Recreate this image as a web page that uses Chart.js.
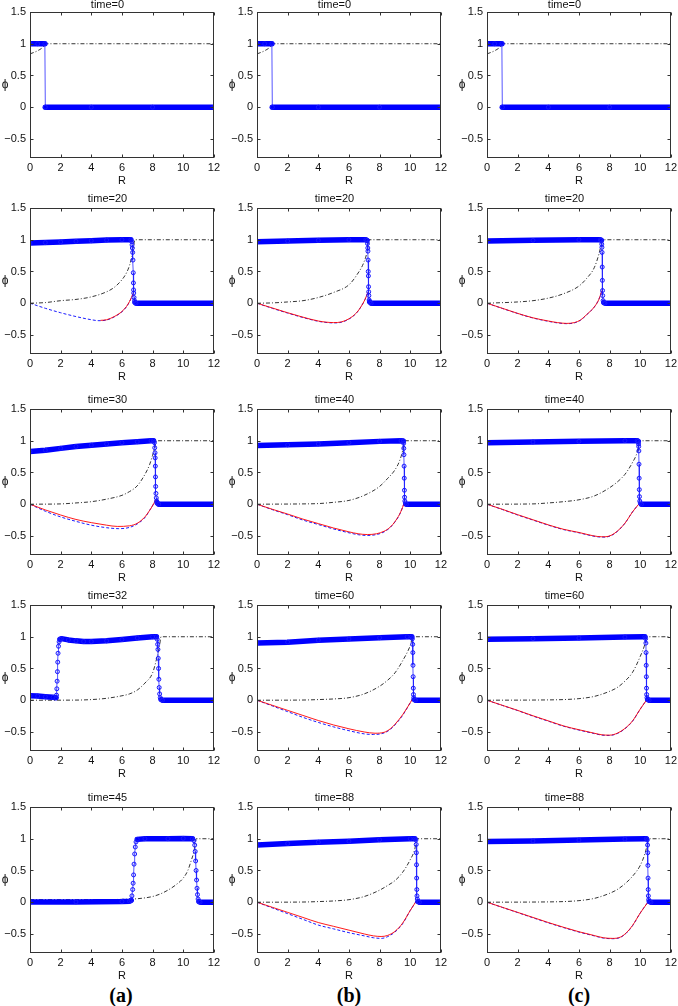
<!DOCTYPE html>
<html><head><meta charset="utf-8">
<script src="https://cdn.jsdelivr.net/npm/chart.js@4.4.1/dist/chart.umd.min.js"></script>
<style>
html,body{margin:0;padding:0;background:#fff;overflow:hidden;width:678px;height:1006px;}
canvas{position:absolute;}
.lab{position:absolute;top:984px;font:bold 20px "Liberation Serif","Times New Roman",serif;line-height:22px;transform:translateX(-50%);color:#000;}
</style></head><body>
<div class="lab" style="left:121px">(a)</div>
<div class="lab" style="left:349px">(b)</div>
<div class="lab" style="left:579px">(c)</div>
<script>
// ---------- axes ----------
const xTicks = [0, 2, 4, 6, 8, 10, 12];
const yTicks = [-0.5, 0, 0.5, 1, 1.5];
const yTickLabels = ['\u22120.5', '0', '0.5', '1', '1.5'];
const xLabel = 'R';
const yLabel = '\u03d5';
const panelLabels = ['(a)', '(b)', '(c)'];
const titles = [
  ['time=0', 'time=20', 'time=30', 'time=32', 'time=45'],
  ['time=0', 'time=20', 'time=40', 'time=60', 'time=88'],
  ['time=0', 'time=20', 'time=40', 'time=60', 'time=88']
];

// ---------- column (a) ----------
const phi_a1 = [[0,1],[0.5,1],[0.97,1],[1.0,0],[4,0],[8,0],[12,0]];
const psi_a1 = [[0,0.84],[0.5,0.89],[0.9,0.96],[1.0,1],[12,1]];
const red_a1 = [];
const dash_a1 = [];

const phi_a2 = [[0,0.95],[1,0.955],[2,0.965],[3,0.975],[4,0.985],[5,0.995],[6,1.0],[6.58,1.0],[6.64,0.97],[6.66,0.92],[6.68,0.87],[6.7,0.8],[6.72,0.68],[6.74,0.48],[6.75,0.32],[6.76,0.21],[6.77,0.16],[6.79,0.09],[6.82,0.04],[6.86,0.01],[6.92,0],[12,0]];
const psi_a2 = [[0,0],[1,0.01],[2,0.04],[3,0.06],[4,0.1],[5,0.18],[5.5,0.25],[6,0.37],[6.3,0.48],[6.5,0.6],[6.7,0.79],[6.85,1],[12,1]];
const red_a2 = [[4.6,-0.27],[5,-0.26],[5.5,-0.21],[6,-0.13],[6.3,-0.05],[6.5,0.03],[6.75,0.16]];
const dash_a2 = [[0,0],[1,-0.08],[2,-0.15],[3,-0.21],[4,-0.26],[4.5,-0.275],[5,-0.265],[5.5,-0.215],[6,-0.135],[6.3,-0.055],[6.5,0.025],[6.75,0.16]];

const phi_a3 = [[0,0.83],[1,0.85],[2,0.88],[3,0.91],[4,0.93],[5,0.95],[6,0.97],[7,0.985],[7.9,1.0],[8.06,1.0],[8.12,0.97],[8.14,0.89],[8.16,0.81],[8.17,0.73],[8.18,0.6],[8.19,0.43],[8.2,0.28],[8.22,0.17],[8.24,0.1],[8.27,0.05],[8.31,0.02],[8.4,0],[12,0]];
const psi_a3 = [[0,0],[2,0.005],[3,0.02],[4,0.04],[5,0.08],[6,0.14],[6.5,0.2],[7,0.29],[7.5,0.47],[7.8,0.62],[8,0.77],[8.15,0.9],[8.25,1],[12,1]];
const red_a3 = [[0,0],[1,-0.09],[2,-0.17],[3,-0.24],[4,-0.29],[5,-0.33],[5.7,-0.35],[6.5,-0.34],[7,-0.3],[7.5,-0.2],[7.8,-0.1],[8.1,0.02],[8.2,0.07]];
const dash_a3 = [[0,0],[1,-0.11],[2,-0.2],[3,-0.27],[4,-0.33],[5,-0.37],[5.8,-0.385],[6.5,-0.365],[7,-0.31],[7.5,-0.21],[7.8,-0.1],[8.1,0.02],[8.2,0.07]];

const phi_a4 = [[0,0.07],[0.5,0.065],[1,0.055],[1.5,0.045],[1.7,0.04],[1.73,0.08],[1.75,0.18],[1.77,0.3],[1.79,0.45],[1.81,0.6],[1.83,0.74],[1.86,0.85],[1.9,0.92],[1.96,0.96],[2.05,0.97],[2.5,0.95],[3,0.935],[3.5,0.925],[4,0.925],[5,0.935],[6,0.955],[7,0.98],[8,1.0],[8.25,1.0],[8.3,0.96],[8.33,0.88],[8.35,0.8],[8.37,0.66],[8.39,0.5],[8.41,0.33],[8.43,0.2],[8.46,0.1],[8.5,0.04],[8.56,0.01],[8.65,0],[12,0]];
const psi_a4 = [[0,0],[3,0.002],[4,0.01],[5,0.03],[6,0.07],[6.5,0.1],[7,0.16],[7.5,0.27],[8,0.43],[8.3,0.69],[8.45,0.85],[8.55,1],[12,1]];
const red_a4 = [];
const dash_a4 = [];

const phi_a5 = [[0,0.005],[3,0.005],[6,0.01],[6.5,0.015],[6.6,0.03],[6.65,0.1],[6.7,0.2],[6.73,0.3],[6.76,0.43],[6.79,0.6],[6.83,0.76],[6.87,0.87],[6.92,0.95],[7.0,0.99],[7.5,1.0],[9,1.0],[10,1.005],[10.6,1.0],[10.7,0.97],[10.75,0.9],[10.78,0.8],[10.81,0.65],[10.84,0.5],[10.87,0.35],[10.9,0.22],[10.93,0.12],[10.97,0.05],[11.03,0.01],[11.1,0],[12,0]];
const psi_a5 = [[0,0.04],[2,0.04],[4,0.04],[6,0.045],[7,0.055],[8,0.09],[8.5,0.13],[9,0.19],[9.5,0.27],[10,0.38],[10.3,0.5],[10.5,0.64],[10.7,0.8],[10.85,1],[12,1]];
const red_a5 = [];
const dash_a5 = [];

// ---------- column (b) ----------
const phi_b1 = [[0,1],[0.5,1],[0.97,1],[1.0,0],[4,0],[8,0],[12,0]];
const psi_b1 = [[0,0.84],[0.5,0.89],[0.9,0.96],[1.0,1],[12,1]];
const red_b1 = [];
const dash_b1 = [];

const phi_b2 = [[0,0.97],[2,0.98],[4,0.99],[6,1.0],[7.1,1.0],[7.18,0.99],[7.21,0.94],[7.23,0.87],[7.24,0.82],[7.25,0.68],[7.26,0.5],[7.27,0.43],[7.28,0.26],[7.29,0.18],[7.3,0.12],[7.32,0.05],[7.36,0.02],[7.45,0],[12,0]];
const psi_b2 = [[0,0],[1,0.005],[2,0.02],[3,0.04],[4,0.09],[5,0.17],[6,0.29],[6.5,0.44],[7,0.66],[7.2,0.83],[7.3,1],[12,1]];
const red_b2 = [[0,0],[1,-0.075],[2,-0.15],[3,-0.22],[4,-0.28],[4.5,-0.298],[5,-0.305],[5.5,-0.295],[6,-0.245],[6.5,-0.15],[6.8,-0.05],[7.05,0.06],[7.25,0.18]];
const dash_b2 = [[0,0],[1,-0.08],[2,-0.155],[3,-0.225],[4,-0.285],[4.5,-0.303],[5,-0.31],[5.5,-0.3],[6,-0.25],[6.5,-0.152],[6.8,-0.05],[7.05,0.06],[7.25,0.18]];

const phi_b3 = [[0,0.925],[2,0.935],[4,0.95],[6,0.97],[8,0.99],[9.4,1.0],[9.54,0.995],[9.57,0.96],[9.58,0.88],[9.59,0.78],[9.6,0.6],[9.61,0.41],[9.62,0.22],[9.63,0.11],[9.65,0.05],[9.68,0.02],[9.75,0],[12,0]];
const psi_b3 = [[0,0],[3,0.005],[4,0.01],[5,0.03],[6,0.06],[7,0.14],[8,0.28],[8.5,0.4],[9,0.54],[9.3,0.68],[9.5,0.84],[9.62,1],[12,1]];
const red_b3 = [[0,0],[1,-0.08],[2,-0.155],[3,-0.235],[4,-0.305],[5,-0.375],[6,-0.435],[6.6,-0.465],[7.2,-0.478],[7.8,-0.465],[8.3,-0.425],[8.7,-0.36],[9,-0.275],[9.3,-0.16],[9.5,-0.05],[9.6,0.02]];
const dash_b3 = [[0,0],[1,-0.085],[2,-0.165],[3,-0.25],[4,-0.32],[5,-0.39],[6,-0.45],[6.6,-0.48],[7.2,-0.492],[7.8,-0.478],[8.3,-0.435],[8.7,-0.365],[9,-0.28],[9.3,-0.165],[9.5,-0.05],[9.6,0.02]];

const phi_b4 = [[0,0.9],[2,0.915],[4,0.945],[6,0.965],[8,0.985],[9.8,1.0],[10.1,1.0],[10.14,0.97],[10.16,0.88],[10.17,0.75],[10.18,0.55],[10.19,0.37],[10.2,0.19],[10.21,0.09],[10.23,0.04],[10.27,0.01],[10.35,0],[12,0]];
const psi_b4 = [[0,0],[3,0.003],[4,0.01],[5,0.02],[6,0.04],[7,0.1],[8,0.22],[8.5,0.31],[9,0.43],[9.5,0.62],[10,0.86],[10.18,1],[12,1]];
const red_b4 = [[0,0],[1,-0.08],[2,-0.16],[3,-0.24],[4,-0.32],[5,-0.39],[6,-0.45],[7,-0.5],[7.7,-0.52],[8.3,-0.505],[8.7,-0.45],[9,-0.38],[9.5,-0.23],[10,-0.04],[10.15,0.02]];
const dash_b4 = [[0,0],[1,-0.09],[2,-0.18],[3,-0.27],[4,-0.35],[5,-0.42],[6,-0.48],[7,-0.53],[7.6,-0.54],[8.3,-0.515],[8.7,-0.46],[9,-0.39],[9.5,-0.24],[10,-0.04],[10.15,0.02]];

const phi_b5 = [[0,0.9],[2,0.925],[4,0.945],[6,0.96],[8,0.985],[10,1.0],[10.3,1.0],[10.37,0.98],[10.39,0.91],[10.4,0.78],[10.41,0.59],[10.42,0.38],[10.43,0.2],[10.44,0.1],[10.46,0.05],[10.51,0.01],[10.6,0],[12,0]];
const psi_b5 = [[0,0],[3,0.003],[4,0.01],[5,0.02],[6,0.04],[7,0.09],[8,0.19],[8.5,0.26],[9,0.34],[9.5,0.47],[10,0.67],[10.3,0.84],[10.42,1],[12,1]];
const red_b5 = [[0,0],[1,-0.08],[2,-0.16],[3,-0.24],[4,-0.32],[5,-0.38],[6,-0.44],[7,-0.5],[7.6,-0.53],[8.1,-0.54],[8.5,-0.525],[9,-0.46],[9.5,-0.33],[10,-0.13],[10.4,0.02]];
const dash_b5 = [[0,0],[1,-0.09],[2,-0.18],[3,-0.27],[4,-0.36],[5,-0.42],[6,-0.48],[7,-0.53],[7.6,-0.56],[8.1,-0.57],[8.5,-0.545],[9,-0.47],[9.5,-0.34],[10,-0.13],[10.4,0.02]];

// ---------- column (c) ----------
const phi_c1 = [[0,1],[0.5,1],[0.97,1],[1.0,0],[4,0],[8,0],[12,0]];
const psi_c1 = [[0,0.84],[0.5,0.89],[0.9,0.96],[1.0,1],[12,1]];
const red_c1 = [];
const dash_c1 = [];

const phi_c2 = [[0,0.98],[3,0.99],[6,1.0],[7.4,1.0],[7.46,0.99],[7.49,0.93],[7.5,0.88],[7.51,0.8],[7.52,0.57],[7.53,0.36],[7.54,0.2],[7.55,0.12],[7.58,0.04],[7.63,0.01],[7.7,0],[12,0]];
const psi_c2 = [[0,0],[2,0.02],[3,0.04],[4,0.08],[5,0.15],[6,0.27],[6.5,0.39],[7,0.56],[7.3,0.77],[7.45,0.92],[7.53,1],[12,1]];
const red_c2 = [[0,0],[1,-0.08],[2,-0.16],[3,-0.23],[4,-0.28],[4.6,-0.305],[5.2,-0.318],[5.7,-0.305],[6.1,-0.265],[6.5,-0.18],[7,-0.06],[7.3,0.06],[7.5,0.2]];
const dash_c2 = [[0,0],[1,-0.082],[2,-0.162],[3,-0.233],[4,-0.285],[4.6,-0.31],[5.2,-0.322],[5.7,-0.31],[6.1,-0.268],[6.5,-0.183],[7,-0.06],[7.3,0.06],[7.5,0.2]];

const phi_c3 = [[0,0.97],[3,0.98],[6,0.99],[9,1.0],[9.8,1.0],[9.87,0.99],[9.89,0.95],[9.9,0.91],[9.91,0.84],[9.92,0.63],[9.93,0.41],[9.94,0.23],[9.95,0.12],[9.97,0.05],[10.0,0.02],[10.08,0],[12,0]];
const psi_c3 = [[0,0],[3,0.005],[4,0.02],[5,0.04],[6,0.07],[7,0.13],[8,0.26],[8.5,0.35],[9,0.47],[9.5,0.66],[9.8,0.82],[9.95,1],[12,1]];
const red_c3 = [[0,0],[1,-0.08],[2,-0.165],[3,-0.245],[4,-0.325],[5,-0.395],[6,-0.445],[6.6,-0.48],[7.2,-0.508],[7.7,-0.513],[8.1,-0.49],[8.5,-0.425],[9,-0.3],[9.5,-0.12],[9.9,0.0]];
const dash_c3 = [[0,0],[1,-0.083],[2,-0.17],[3,-0.25],[4,-0.33],[5,-0.4],[6,-0.45],[6.6,-0.485],[7.2,-0.513],[7.7,-0.518],[8.1,-0.495],[8.5,-0.43],[9,-0.3],[9.5,-0.12],[9.9,0.0]];

const phi_c4 = [[0,0.96],[3,0.97],[6,0.98],[9,0.995],[10.3,1.0],[10.35,0.97],[10.37,0.9],[10.38,0.75],[10.39,0.55],[10.4,0.37],[10.41,0.19],[10.42,0.09],[10.44,0.04],[10.49,0.01],[10.58,0],[12,0]];
const psi_c4 = [[0,0],[4,0.005],[5,0.01],[6,0.025],[7,0.06],[8,0.14],[8.5,0.2],[9,0.3],[9.5,0.44],[10,0.69],[10.3,0.88],[10.42,1],[12,1]];
const red_c4 = [[0,0],[1,-0.08],[2,-0.16],[3,-0.245],[4,-0.325],[5,-0.405],[6,-0.465],[7,-0.52],[7.5,-0.545],[8,-0.55],[8.5,-0.52],[9,-0.445],[9.5,-0.325],[10,-0.14],[10.4,0.0]];
const dash_c4 = [[0,0],[1,-0.082],[2,-0.163],[3,-0.25],[4,-0.33],[5,-0.41],[6,-0.47],[7,-0.525],[7.5,-0.55],[8,-0.555],[8.5,-0.525],[9,-0.45],[9.5,-0.33],[10,-0.14],[10.4,0.0]];

const phi_c5 = [[0,0.955],[3,0.965],[6,0.98],[9,0.995],[10.4,1.0],[10.46,0.98],[10.48,0.9],[10.49,0.78],[10.5,0.58],[10.51,0.38],[10.52,0.2],[10.53,0.1],[10.55,0.04],[10.6,0.01],[10.7,0],[12,0]];
const psi_c5 = [[0,0],[4,0.005],[5,0.01],[6,0.025],[7,0.06],[8,0.14],[8.5,0.2],[9,0.29],[9.5,0.41],[10,0.58],[10.3,0.76],[10.45,0.9],[10.53,1],[12,1]];
const red_c5 = [[0,0],[1,-0.08],[2,-0.16],[3,-0.24],[4,-0.32],[5,-0.395],[6,-0.465],[7,-0.525],[7.6,-0.56],[8.2,-0.57],[8.7,-0.55],[9.1,-0.48],[9.5,-0.365],[10,-0.17],[10.5,0.0]];
const dash_c5 = [[0,0],[1,-0.082],[2,-0.163],[3,-0.245],[4,-0.325],[5,-0.4],[6,-0.47],[7,-0.53],[7.6,-0.565],[8.2,-0.575],[8.7,-0.555],[9.1,-0.485],[9.5,-0.37],[10,-0.17],[10.5,0.0]];

const series = [
  [[phi_a1,psi_a1,red_a1,dash_a1],[phi_a2,psi_a2,red_a2,dash_a2],[phi_a3,psi_a3,red_a3,dash_a3],[phi_a4,psi_a4,red_a4,dash_a4],[phi_a5,psi_a5,red_a5,dash_a5]],
  [[phi_b1,psi_b1,red_b1,dash_b1],[phi_b2,psi_b2,red_b2,dash_b2],[phi_b3,psi_b3,red_b3,dash_b3],[phi_b4,psi_b4,red_b4,dash_b4],[phi_b5,psi_b5,red_b5,dash_b5]],
  [[phi_c1,psi_c1,red_c1,dash_c1],[phi_c2,psi_c2,red_c2,dash_c2],[phi_c3,psi_c3,red_c3,dash_c3],[phi_c4,psi_c4,red_c4,dash_c4],[phi_c5,psi_c5,red_c5,dash_c5]]
];

// ---------- layout ----------
const colLeft = [30, 257, 487];
const rowTop = [12, 208, 409, 605, 807];
const plotW = 185, plotH = 146;
const padL = 30, padT = 18, padR = 8, padB = 30;
const FONT = '"Liberation Sans", Arial, Helvetica, sans-serif';

const toXY = arr => arr.map(p => ({x: p[0], y: p[1]}));
const steep = c => Math.abs(c.p1.y - c.p0.y) > Math.abs(c.p1.x - c.p0.x);

const framePlugin = {
  id: 'frame',
  afterDatasetsDraw(chart) {
    const {ctx, chartArea: a, scales: {x, y}} = chart;
    ctx.save();
    ctx.strokeStyle = '#333';
    ctx.lineWidth = 1;
    const L = Math.round(a.left) + 0.5, R = Math.round(a.right) - 0.5;
    const T = Math.round(a.top) + 0.5, B = Math.round(a.bottom) - 0.5;
    ctx.strokeRect(L, T, R - L, B - T);
    ctx.beginPath();
    xTicks.forEach(v => {
      const px = Math.round(x.getPixelForValue(v)) + 0.5;
      ctx.moveTo(px, B); ctx.lineTo(px, B - 3);
      ctx.moveTo(px, T); ctx.lineTo(px, T + 3);
    });
    yTicks.forEach(v => {
      const py = Math.round(y.getPixelForValue(v)) + 0.5;
      ctx.moveTo(L, py); ctx.lineTo(L + 3, py);
      ctx.moveTo(R, py); ctx.lineTo(R - 3, py);
    });
    ctx.stroke();
    ctx.fillStyle = '#111';
    ctx.font = '12px ' + FONT;
    ctx.textAlign = 'center';
    ctx.textBaseline = 'middle';
    ctx.fillText(yLabel, a.left - 25, (a.top + a.bottom) / 2);
    ctx.restore();
  }
};

for (let c = 0; c < 3; c++) {
  for (let r = 0; r < 5; r++) {
    const [phi, psi, red, dash] = series[c][r];
    const cv = document.createElement('canvas');
    cv.width = padL + plotW + padR;
    cv.height = padT + plotH + padB;
    cv.style.left = (colLeft[c] - padL) + 'px';
    cv.style.top = (rowTop[r] - padT) + 'px';
    document.body.appendChild(cv);
    const titlePad = r === 0 ? {top: 4.5, bottom: 0.3} : {top: 2, bottom: 2.8};
    new Chart(cv, {
      type: 'line',
      data: {
        datasets: [
          {
            label: 'phi', data: toXY(phi), borderColor: '#0000ff', borderWidth: 5.5,
            borderCapStyle: 'round', borderJoinStyle: 'round', tension: 0,
            pointRadius: 2, pointBorderWidth: 1, pointBorderColor: '#1a1aff',
            pointBackgroundColor: 'rgba(0,0,255,0.12)',
            segment: {
              borderWidth: s => steep(s) ? 1 : 5.5,
              borderColor: s => steep(s) ? 'rgba(30,30,255,0.75)' : '#0000ff'
            }
          },
          {
            label: 'red', data: toXY(red), borderColor: '#ff0000', borderWidth: 0.9,
            pointRadius: 0, cubicInterpolationMode: 'monotone'
          },
          {
            label: 'dashed', data: toXY(dash), borderColor: '#0000ff', borderWidth: 0.9,
            borderDash: [3, 2], pointRadius: 0, cubicInterpolationMode: 'monotone'
          },
          {
            label: 'psi', data: toXY(psi), borderColor: '#000', borderWidth: 0.8,
            borderDash: [4, 2, 1, 2], pointRadius: 0, cubicInterpolationMode: 'monotone'
          }
        ]
      },
      options: {
        responsive: false,
        animation: false,
        events: [],
        layout: {padding: {left: 0, right: padR, top: 0, bottom: 0}},
        plugins: {
          legend: {display: false},
          tooltip: {enabled: false},
          title: {
            display: true, text: titles[c][r], color: '#111',
            font: {size: 11, weight: 'normal', family: FONT, lineHeight: 1.2},
            padding: titlePad
          }
        },
        scales: {
          x: {
            type: 'linear', min: 0, max: 12,
            afterBuildTicks: s => { s.ticks = xTicks.map(v => ({value: v})); },
            afterFit: s => { s.height = padB; },
            grid: {display: false, drawTicks: false}, border: {display: false},
            ticks: {padding: 3, autoSkip: false, maxRotation: 0, color: '#111',
                    font: {size: 11, family: FONT}},
            title: {display: true, text: xLabel, color: '#111', padding: {top: 0, bottom: 0},
                    font: {size: 11, family: FONT}}
          },
          y: {
            type: 'linear', min: -0.8, max: 1.5,
            afterBuildTicks: s => { s.ticks = yTicks.map(v => ({value: v})); },
            afterFit: s => { s.width = padL; },
            grid: {display: false, drawTicks: false}, border: {display: false},
            ticks: {padding: 4, autoSkip: false, color: '#111',
                    font: {size: 11, family: FONT},
                    callback: (v, i) => yTickLabels[i]}
          }
        }
      },
      plugins: [framePlugin]
    });
  }
}
</script>
</body></html>
